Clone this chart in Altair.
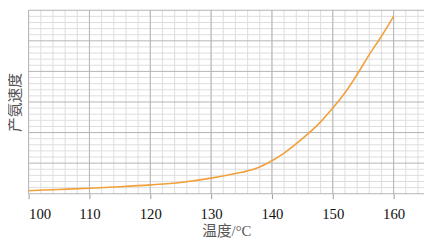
import altair as alt
import pandas as pd

# Curve data
temps = [100, 105, 110, 115, 120, 125, 130, 135, 137, 140, 142, 145, 148, 150, 152, 154, 156, 158, 160]
rates = [0.10, 0.14, 0.18, 0.23, 0.29, 0.37, 0.51, 0.70, 0.80, 1.08, 1.33, 1.80, 2.35, 2.80, 3.30, 3.90, 4.55, 5.15, 5.80]

x_ticks = [100, 110, 120, 130, 140, 150, 160]
x_minor = [100, 102, 104, 106, 108, 110, 112, 114, 116, 118, 120, 122, 124, 126, 128, 130,
           132, 134, 136, 138, 140, 142, 144, 146, 148, 150, 152, 154, 156, 158, 160, 162, 164]
y_major = [0, 1, 2, 3, 4, 5, 6]
y_minor = [0.2, 0.4, 0.6, 0.8, 1.2, 1.4, 1.6, 1.8, 2.2, 2.4, 2.6, 2.8, 3.2, 3.4, 3.6, 3.8,
           4.2, 4.4, 4.6, 4.8, 5.2, 5.4, 5.6, 5.8]

x_title = "温度/°C"
y_title = "产氨速度"

FONT = "Liberation Serif, Noto Sans CJK SC"
xs = alt.Scale(domain=[100, 165], nice=False, zero=False)
ys = alt.Scale(domain=[0, 6], nice=False, zero=False)

x_axis = alt.Axis(
    values=x_ticks, title=x_title, grid=False, domain=False,
    ticks=True, tickSize=5, tickColor="#999999",
    labelFont=FONT, labelFontSize=15, labelColor="#111111", labelPadding=8,
    titleFont=FONT, titleFontSize=15, titleFontWeight="normal", titleColor="#555555",
    titlePadding=3)
y_axis = alt.Axis(
    title=y_title, labels=False, ticks=False, grid=False, domain=False,
    titleFont=FONT, titleFontSize=15, titleFontWeight="normal", titleColor="#555555",
    titlePadding=6)

minor_v = alt.Chart(pd.DataFrame({"t": x_minor})).mark_rule(color="#dddddd", strokeWidth=1).encode(
    x=alt.X("t:Q", scale=xs, axis=x_axis))
minor_h = alt.Chart(pd.DataFrame({"r": y_minor})).mark_rule(color="#dddddd", strokeWidth=1).encode(
    y=alt.Y("r:Q", scale=ys, axis=y_axis))
major_v = alt.Chart(pd.DataFrame({"t": x_ticks})).mark_rule(color="#b4b4b4", strokeWidth=1).encode(
    x=alt.X("t:Q", scale=xs, axis=x_axis))
major_h = alt.Chart(pd.DataFrame({"r": y_major})).mark_rule(color="#b4b4b4", strokeWidth=1).encode(
    y=alt.Y("r:Q", scale=ys, axis=y_axis))

line = alt.Chart(pd.DataFrame({"t": temps, "r": rates})).mark_line(
    color="#f2a03a", strokeWidth=1.6, interpolate="monotone").encode(
    x=alt.X("t:Q", scale=xs, axis=x_axis),
    y=alt.Y("r:Q", scale=ys, axis=y_axis),
)

chart = alt.layer(minor_v, minor_h, major_v, major_h, line).properties(
    width=403, height=187,
    autosize=alt.AutoSizeParams(type="none"),
    padding={"left": 21, "top": 0, "right": 2, "bottom": 51},
).configure_view(stroke=None)

chart.save("out.html", embed_options={"renderer": "svg", "actions": False})
